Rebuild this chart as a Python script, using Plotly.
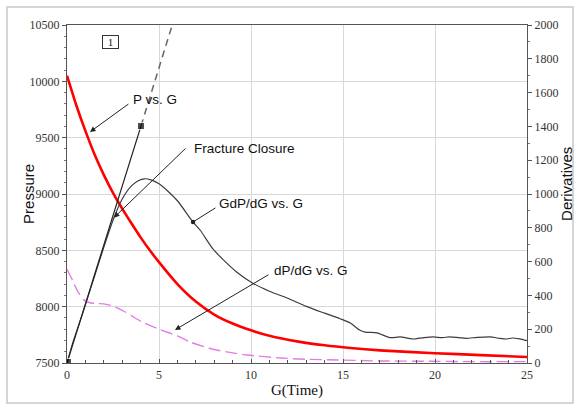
import plotly.graph_objects as go

# ---- data ----
g_p = [0, 0.5, 1.0, 1.5, 2.0, 2.5, 3.0, 3.5, 4.0, 4.5, 5.0, 6.0, 7.0, 8.0, 9.0, 10.0, 11.0,
       12.5, 14.0, 15.4, 17.0, 20.0, 22.5, 25.0]
pressure = [10050, 9790, 9560, 9350, 9170, 9010, 8870, 8740, 8615, 8500, 8395, 8200, 8045,
            7930, 7850, 7790, 7742, 7692, 7657, 7633, 7612, 7587, 7570, 7553]

g_d = [0, 0.3, 0.7, 1.0, 1.5, 2.0, 2.5, 3.0, 3.5, 3.9, 4.2, 4.6, 5.0, 5.5, 6.0, 6.85, 7.23,
       7.93, 8.5, 9.2, 10.05, 11.0, 11.96, 13.0, 14.0, 14.84, 15.4, 15.9, 16.2, 16.85, 17.55,
       18.1, 18.8, 19.4, 19.9, 20.4, 20.8, 21.3, 21.7, 22.3, 23.0, 23.5, 23.9, 24.2, 24.6, 25.0]
gdpdg = [0, 115, 245, 345, 515, 685, 845, 970, 1048, 1080, 1090, 1082, 1060, 1015, 960, 834,
         787, 675, 610, 540, 475, 425, 385, 335, 295, 262, 237, 195, 183, 178, 150, 154, 142,
         150, 154, 150, 155, 150, 146, 152, 155, 146, 142, 148, 143, 132]

g_dp = [0, 0.3, 0.6, 0.9, 1.2, 1.6, 2.0, 2.4, 3.0, 3.5, 4.1, 5.0, 6.0, 6.7, 8.0, 9.0, 9.8,
        11.6, 13.0, 14.7, 17.0, 20.0, 22.0, 25.0]
dpdg = [555, 490, 420, 375, 358, 352, 350, 340, 312, 280, 242, 200, 160, 124, 80, 60, 47,
        30, 22, 18, 12, 10, 8, 8]

tangent_g_solid = [0, 4.02]
tangent_d_solid = [0, 1402]
tangent_g_dash = [4.02, 5.72]
tangent_d_dash = [1402, 2000]

x_ticks = [0, 5, 10, 15, 20, 25]
p_ticks = [7500, 8000, 8500, 9000, 9500, 10000, 10500]
d_ticks = [0, 200, 400, 600, 800, 1000, 1200, 1400, 1600, 1800, 2000]

# ---- figure ----
fig = go.Figure()
fig.add_trace(go.Scatter(x=g_p, y=pressure, mode="lines", line=dict(color="#ff0000", width=2.6),
                         line_shape="spline", line_smoothing=0.6, name="P vs. G", yaxis="y"))
fig.add_trace(go.Scatter(x=g_d, y=gdpdg, mode="lines", line=dict(color="#3c3c3c", width=1.2),
                         line_shape="spline", line_smoothing=0.7, name="GdP/dG vs. G",
                         yaxis="y2"))
fig.add_trace(go.Scatter(x=g_dp, y=dpdg, mode="lines",
                         line=dict(color="#e47ce4", width=1.4, dash="12px,5px"),
                         line_shape="spline", line_smoothing=0.7, name="dP/dG vs. G",
                         yaxis="y2"))
fig.add_trace(go.Scatter(x=tangent_g_solid, y=tangent_d_solid, mode="lines",
                         line=dict(color="#222222", width=1.2), yaxis="y2"))
fig.add_trace(go.Scatter(x=tangent_g_dash, y=tangent_d_dash, mode="lines",
                         line=dict(color="#666666", width=1.5, dash="7px,5px"), yaxis="y2"))
fig.add_trace(go.Scatter(x=[tangent_g_solid[0], tangent_g_solid[1]],
                         y=[tangent_d_solid[0], tangent_d_solid[1]], mode="markers",
                         marker=dict(symbol="square", color="#000000", size=[9, 7]),
                         yaxis="y2"))

tick_font = dict(family="Liberation Serif, Times New Roman, serif", size=12, color="#333333")
fig.update_layout(
    width=577, height=405,
    margin=dict(l=67, r=50, t=25, b=42),
    paper_bgcolor="white", plot_bgcolor="white",
    showlegend=False,
    xaxis=dict(range=[0, 25], tickvals=x_ticks, ticktext=[str(v) for v in x_ticks],
               showgrid=True, gridcolor="#d8d8d8",
               gridwidth=1, zeroline=False, showline=True, linecolor="#555555", linewidth=1.2,
               mirror=True, ticks="inside", ticklen=4, tickcolor="#555555", tickfont=tick_font,
               automargin=False,
               minor=dict(dtick=1, ticks="inside", ticklen=3, tickcolor="#555555", showgrid=False)),
    yaxis=dict(range=[7500, 10500], tickvals=p_ticks, ticktext=[str(v) for v in p_ticks],
               showgrid=True, gridcolor="#d8d8d8", automargin=False,
               zeroline=False, showline=True, linecolor="#555555", linewidth=1.2, mirror=True,
               ticks="outside", ticklen=4, tickcolor="#555555", tickfont=tick_font,
               minor=dict(dtick=100, ticks="outside", ticklen=2, tickcolor="#777777",
                          showgrid=False)),
    yaxis2=dict(range=[0, 2000], tickvals=d_ticks, ticktext=[str(v) for v in d_ticks],
                overlaying="y", side="right", showgrid=False, automargin=False,
                zeroline=False, showline=True, linecolor="#555555", linewidth=1.2,
                ticks="outside", ticklen=4, tickcolor="#555555", tickfont=tick_font,
                minor=dict(dtick=100, ticks="outside", ticklen=2, tickcolor="#777777")),
)

label_font = dict(family="Liberation Sans, Arial, sans-serif", size=13.5, color="#111111")
arrows = [
    # (head_x, head_y, tail_x, tail_y, arrowhead)
    (1.25, 9551, 3.42, 9808, 2),
    (2.55, 8790, 6.52, 9417, 2),
    (6.85, 8752, 8.15, 8885, 6),
    (5.87, 7794, 11.03, 8291, 2),
]
for hx, hy, tx, ty, ah in arrows:
    fig.add_annotation(x=hx, y=hy, ax=tx, ay=ty, xref="x", yref="y", axref="x", ayref="y",
                       text="", showarrow=True, arrowhead=ah, arrowsize=1.1, arrowwidth=1,
                       arrowcolor="#222222", standoff=0, startstandoff=0)

labels = [
    ("P vs. G", 3.48, 9843),
    ("Fracture Closure", 6.79, 9400),
    ("GdP/dG vs. G", 8.15, 8912),
    ("dP/dG vs. G", 11.14, 8317),
]
for txt, lx, ly in labels:
    fig.add_annotation(x=lx, y=ly, xref="x", yref="y", text=txt, showarrow=False,
                       xanchor="left", yanchor="middle", font=label_font)

fig.add_annotation(x=2.39, y=10349, xref="x", yref="y", text="1", showarrow=False,
                   font=dict(family="Liberation Serif, serif", size=11, color="#111111"),
                   bordercolor="#333333", borderwidth=1, borderpad=1, width=13, height=10)

# axis titles
fig.add_annotation(x=-0.085, y=0.5, xref="paper", yref="paper", text="Pressure",
                   textangle=-90, showarrow=False, xanchor="center", yanchor="middle",
                   font=dict(family="Liberation Sans, Arial, sans-serif", size=15, color="#111111"))
fig.add_annotation(x=1.087, y=0.53, xref="paper", yref="paper", text="Derivatives",
                   textangle=-90, showarrow=False, xanchor="center", yanchor="middle",
                   font=dict(family="Liberation Sans, Arial, sans-serif", size=15, color="#111111"))
fig.add_annotation(x=0.5, y=-0.05, xref="paper", yref="paper", text="G(Time)",
                   showarrow=False, xanchor="center", yanchor="top",
                   font=dict(family="Liberation Serif, Times New Roman, serif", size=15,
                             color="#111111"))

# outer light frame
fig.add_shape(type="rect", xref="paper", yref="paper", x0=-0.1304, x1=1.1, y0=-0.1183,
              y1=1.0533, line=dict(color="#c8c8c8", width=1.5), layer="below")

fig.write_html("out.html", config={"displayModeBar": False},
               post_script="document.body.style.margin='0';")
